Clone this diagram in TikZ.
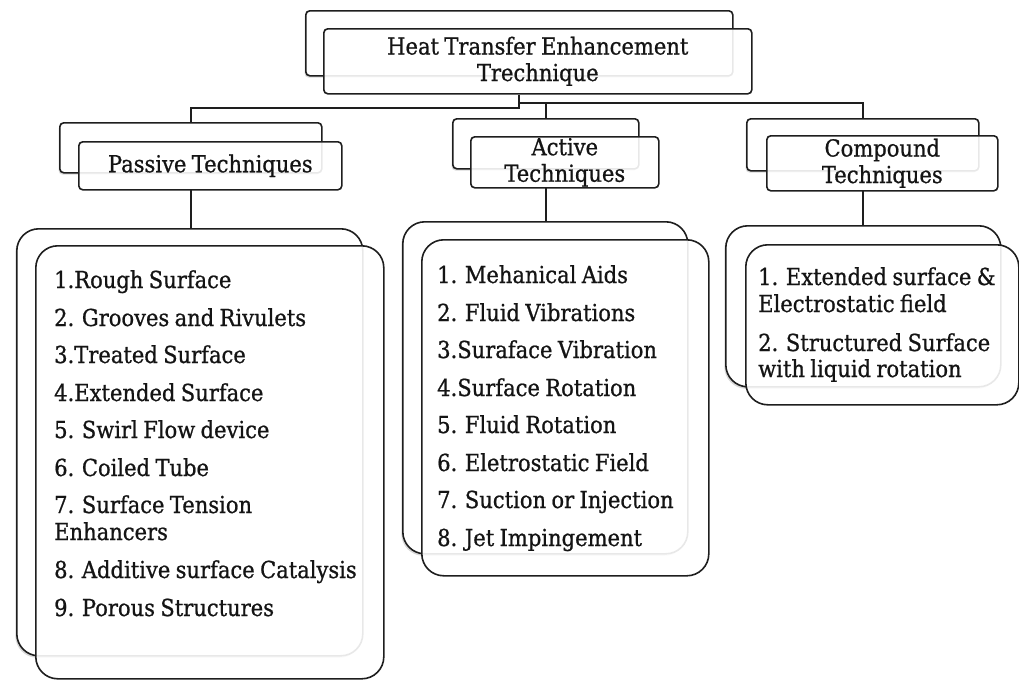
\documentclass[tikz,border=0pt]{standalone}
\usepackage{fontspec}
\setmainfont{DejaVu Serif}[FakeStretch=0.9, FakeBold=0.8, WordSpace=0.8]
\usetikzlibrary{shadows}
\definecolor{ink}{HTML}{141414}
\definecolor{edge}{HTML}{1E1E1E}
\tikzset{
  boxbase/.style={draw=edge, line width=1.6pt, inner sep=0pt, anchor=north west},
  backbox/.style={boxbase, rounded corners=4pt, fill=white,
    drop shadow={shadow xshift=-1.2pt, shadow yshift=-1.8pt, opacity=0.3}},
  frontbox/.style={boxbase, rounded corners=4pt, fill=white, fill opacity=0.9, text opacity=1,
    anchor=north west, align=center, text=ink, font=\fontsize{23.4}{26.5}\selectfont},
  listback/.style={boxbase, rounded corners=22pt, fill=white,
    drop shadow={shadow xshift=-1.5pt, shadow yshift=-2pt, opacity=0.3}},
  listfront/.style={boxbase, rounded corners=22pt, fill=white, fill opacity=0.9},
  item/.style={anchor=base west, inner sep=0pt, text=ink, font=\fontsize{23.4}{26.5}\selectfont},
  conn/.style={draw=edge, line width=1.6pt},
}
\begin{document}
\begin{tikzpicture}[x=1pt, y=-1pt]
\useasboundingbox (0,0) rectangle (1019,680);
% junction points
\coordinate (j1) at (519,108);
\coordinate (j2) at (519,103);
% back boxes
\node[backbox, minimum width=427pt, minimum height=65pt] (titleB) at (305,10) {};
\node[backbox, minimum width=262pt, minimum height=50pt] (passB) at (59,122) {};
\node[backbox, minimum width=186pt, minimum height=50pt] (actB) at (452,118) {};
\node[backbox, minimum width=232pt, minimum height=52pt] (compB) at (746,118) {};
\node[listback, minimum width=346pt, minimum height=427pt] (passLB) at (16,228) {};
\node[listback, minimum width=285pt, minimum height=332pt] (actLB) at (402,221) {};
\node[listback, minimum width=275pt, minimum height=161pt] (compLB) at (725,225) {};
% connectors
\draw[conn] (j1 |- titleB.south) ++(0,18) -- (j1) -| (passB.north);
\draw[conn] (j1) -- (j2) -| (compB.north);
\draw[conn] (actB.north |- j2) -- (actB.north);
\draw[conn] (passLB.north -| passB.north) ++(0,-39) -- (passLB.north -| passB.north);
\draw[conn] (actLB.north -| actB.north) ++(0,-34) -- (actLB.north -| actB.north);
\draw[conn] (compLB.north -| compB.north) ++(0,-35) -- (compLB.north -| compB.north);
% front boxes
\node[frontbox, minimum width=428pt, minimum height=65pt] (titleF) at (323,28)
  {Heat Transfer Enhancement\\Trechnique};
\node[frontbox, minimum width=263pt, minimum height=48pt] (passF) at (78,141)
  {Passive Techniques};
\node[frontbox, minimum width=188pt, minimum height=51pt] (actF) at (470,136)
  {Active\\Techniques};
\node[frontbox, minimum width=231pt, minimum height=55pt] (compF) at (766,135)
  {Compound\\Techniques};
\node[listfront, minimum width=348pt, minimum height=433pt] (passLF) at (35,245) {};
\node[listfront, minimum width=287pt, minimum height=336pt] (actLF) at (421,239) {};
\node[listfront, minimum width=273pt, minimum height=160pt] (compLF) at (745,244) {};
% passive items
\node[item] (p1) at (54,288) {1.Rough Surface};
\node[item] (p2) at (54,326) {2. Grooves and Rivulets};
\node[item] (p3) at (54,363) {3.Treated Surface};
\node[item] (p4) at (54,401) {4.Extended Surface};
\node[item] (p5) at (54,438) {5. Swirl Flow device};
\node[item] (p6) at (54,476) {6. Coiled Tube};
\node[item] (p7) at (54,513) {7. Surface Tension};
\node[item] (p7b) at (54,540) {Enhancers};
\node[item] (p8) at (54,578) {8. Additive surface Catalysis};
\node[item] (p9) at (54,616) {9. Porous Structures};
% active items
\node[item] (a1) at (437,283) {1. Mehanical Aids};
\node[item] (a2) at (437,321) {2. Fluid Vibrations};
\node[item] (a3) at (437,358) {3.Suraface Vibration};
\node[item] (a4) at (437,396) {4.Surface Rotation};
\node[item] (a5) at (437,433) {5. Fluid Rotation};
\node[item] (a6) at (437,471) {6. Eletrostatic Field};
\node[item] (a7) at (437,508) {7. Suction or Injection};
\node[item] (a8) at (437,546) {8. Jet Impingement};
% compound items
\node[item] (c1) at (758,285) {1. Extended surface \&};
\node[item] (c1b) at (758,312) {Electrostatic field};
\node[item] (c2) at (758,351) {2. Structured Surface};
\node[item] (c2b) at (758,377) {with liquid rotation};
\end{tikzpicture}
\end{document}
